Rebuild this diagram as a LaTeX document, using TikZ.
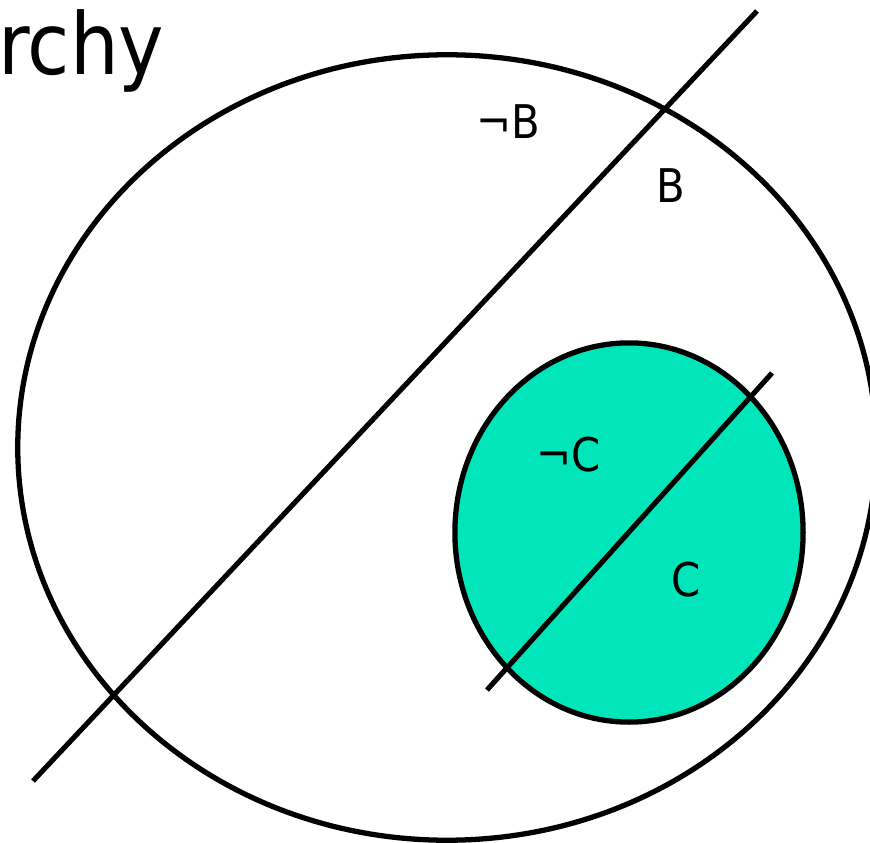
\documentclass[tikz,border=0pt]{standalone}
\usepackage{fontspec}
\setmainfont{DejaVu Sans Condensed}
\usetikzlibrary{positioning}
\definecolor{SetGreen}{RGB}{0,229,186}
\tikzset{
  setline/.style={line width=1.5pt,draw=black},
  cutline/.style={line width=1.45pt,draw=black},
  setlabel/.style={inner sep=0pt,font=\fontsize{13.2}{15}\selectfont},
  titletext/.style={inner sep=0pt,font=\fontsize{24.3}{28}\selectfont}
}

\begin{document}
\begin{tikzpicture}[x=0.01cm,y=-0.01cm]
  \useasboundingbox (0,0) rectangle (870,843);
  \draw[setline] (447,447.5) ellipse [x radius=4.29cm,y radius=3.925cm];
  \draw[setline,fill=SetGreen] (629,532.5) ellipse [x radius=1.74cm,y radius=1.895cm];
  \coordinate (bcutlow) at (33,781);
  \coordinate (bcuthigh) at (757,11);
  \coordinate (ccutlow) at (487,690);
  \coordinate (ccuthigh) at (772,373);
  \draw[cutline] (bcutlow) -- (bcuthigh);
  \draw[cutline] (ccutlow) -- (ccuthigh);
  \node[titletext,anchor=base east] (title) at (165,75) {rchy};
  \node[setlabel] (notb) at (508,122) {¬B};
  \node[setlabel] (isb) at (671,186) {B};
  \node[setlabel] (notc) at (569,455) {¬C};
  \node[setlabel] (isc) at (686,580) {C};
\end{tikzpicture}
\end{document}
